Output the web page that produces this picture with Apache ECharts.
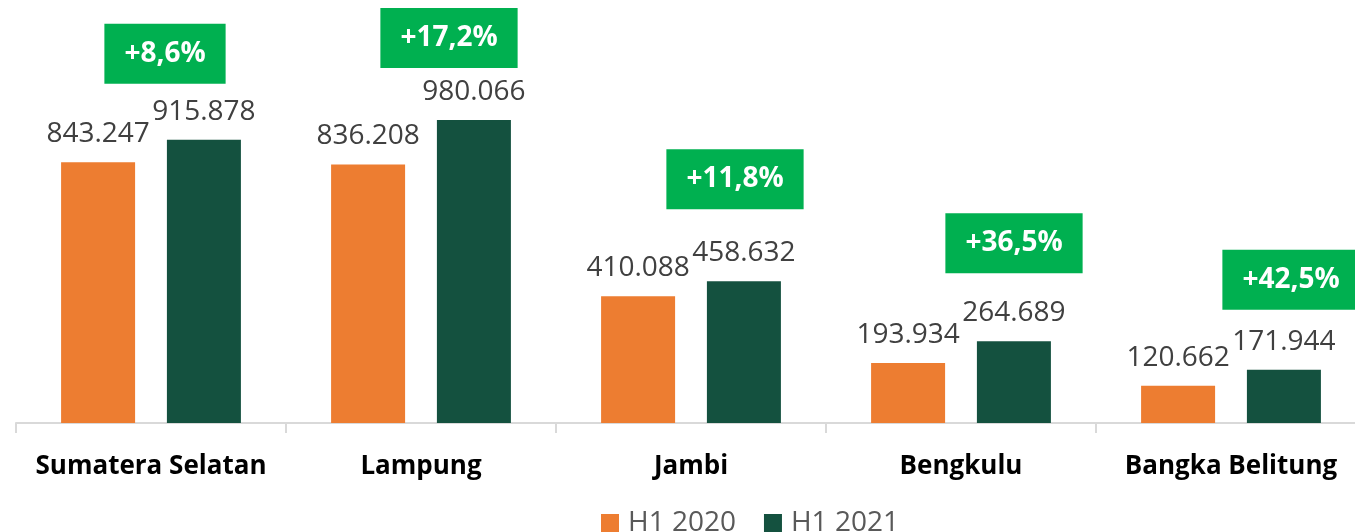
<!DOCTYPE html>
<html>
<head>
<meta charset="utf-8">
<script src="https://cdn.jsdelivr.net/npm/echarts@6/dist/echarts.min.js"></script>
<style>
  html, body { margin: 0; padding: 0; background: #fff; overflow: hidden; }
  /* the plot runs a little past the right edge of the picture, as in the original */
  #chart { width: 1366px; height: 532px; }
</style>
</head>
<body>
<div id="chart"></div>
<script>
// data
const regions = ["Sumatera Selatan", "Lampung", "Jambi", "Bengkulu", "Bangka Belitung"];
const h1_2020 = [843247, 836208, 410088, 193934, 120662];
const h1_2021 = [915878, 980066, 458632, 264689, 171944];
const growth = ["+8,6%", "+17,2%", "+11,8%", "+36,5%", "+42,5%"];

// where each growth box sits, relative to category centre / top of the H1 2021 bar (px)
const growthOffsets = [[14, -86], [28, -82], [44, -102], [53, -98], [60, -90]];

const FONT = "'Open Sans', sans-serif";
const ORANGE = "#ED7D31";
const DKGREEN = "#14513F";

// 843247 -> "843.247"
const fmt = (v) => String(v).replace(/\B(?=(\d{3})+(?!\d))/g, ".");

const chart = echarts.init(document.getElementById("chart"), null, { renderer: "canvas" });

const valueLabel = {
  show: true,
  position: "top",
  distance: 14,
  fontFamily: FONT,
  fontSize: 28,
  color: "#404040",
  formatter: (p) => fmt(p.value),
};

const option = {
  animation: false,
  grid: { left: 16, right: 0, top: 0, bottom: 109, containLabel: false },
  legend: {
    data: ["H1 2020", "H1 2021"],
    left: 601,
    top: 509,
    padding: 0,
    itemWidth: 18,
    itemHeight: 18,
    itemGap: 28,
    icon: "rect",
    textStyle: { fontFamily: FONT, fontSize: 28, color: "#595959", padding: [0, 0, 0, 4] },
  },
  xAxis: {
    type: "category",
    data: regions,
    axisLine: { lineStyle: { color: "#D9D9D9", width: 2 } },
    axisTick: { show: true, length: 10, lineStyle: { color: "#D9D9D9", width: 2 } },
    axisLabel: {
      interval: 0,
      margin: 31,
      fontFamily: FONT,
      fontSize: 26,
      fontWeight: "bold",
      color: "#000",
    },
  },
  yAxis: {
    type: "value",
    min: 0,
    max: 1368000,
    show: false,
    splitLine: { show: false },
  },
  series: [
    {
      name: "H1 2020",
      type: "bar",
      data: h1_2020,
      barWidth: 74,
      barGap: "43%",
      itemStyle: { color: ORANGE },
      label: valueLabel,
    },
    {
      name: "H1 2021",
      type: "bar",
      data: h1_2021,
      barWidth: 74,
      itemStyle: { color: DKGREEN },
      label: valueLabel,
    },
    {
      name: "growth",
      type: "scatter",
      symbolSize: 0,
      silent: true,
      z: 5,
      itemStyle: { opacity: 1 },
      data: h1_2021.map((v, i) => ({
        value: [i, v],
        label: { offset: growthOffsets[i] },
      })),
      label: {
        show: true,
        position: "inside",
        formatter: (p) => growth[p.dataIndex],
        fontFamily: FONT,
        fontSize: 28,
        fontWeight: "bold",
        color: "#fff",
        backgroundColor: "#00B050",
        lineHeight: 30,
        padding: [15, 20],
      },
    },
  ],
};

chart.setOption(option);
</script>
</body>
</html>
